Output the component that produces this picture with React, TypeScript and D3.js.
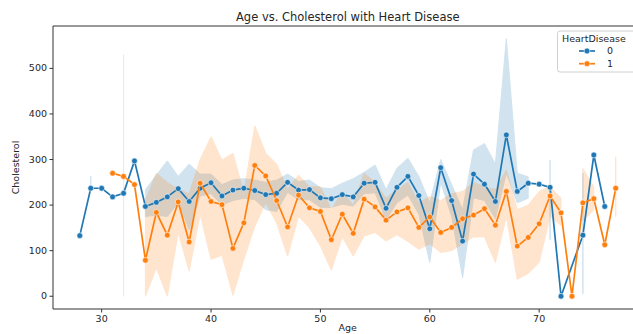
import React from "react";
import * as d3 from "d3";

// HeartDisease = 0
const ages0 = [28,29,30,31,32,33,34,35,36,37,38,39,40,41,42,43,44,45,46,47,48,49,50,51,52,53,54,55,56,57,58,59,60,61,62,63,64,65,66,67,68,69,70,71,72,74,75,76];
const chol0 = [133,237,237,218,226,297,197,206,218,236,208,237,249,220,233,237,232,223,226,250,233,234,216,214,223,218,248,250,193,239,263,221,148,282,210,121,268,246,208,354,230,248,246,239,0,134,310,197];
const lo0 = [null,237,null,null,null,null,175,178,175,206,146,220,225,200,210,215,212,190,186,228,212,212,195,195,202,198,225,227,168,205,222,180,74,250,175,41,216,210,170,270,205,215,null,124,null,5,null,null];
const hi0 = [null,263,null,null,null,null,234,266,297,263,290,268,268,245,255,258,255,250,255,268,252,255,238,236,248,258,272,288,234,281,303,263,205,300,245,190,321,335,290,565,270,262,null,299,null,270,null,null];

// HeartDisease = 1
const ages1 = [31,32,33,34,35,36,37,38,39,40,41,42,43,44,45,46,47,48,49,50,51,52,53,54,55,56,57,58,59,60,61,62,63,64,65,66,67,68,69,70,71,72,73,74,75,76,77];
const chol1 = [270,263,245,79,184,134,207,119,248,208,201,105,161,287,264,210,152,222,194,186,124,180,138,213,196,167,185,194,151,174,140,151,170,178,192,156,230,110,129,159,220,183,0,205,214,113,237];
const lo1 = [null,0,null,0,62,0,140,55,180,81,90,2,81,153,205,160,88,175,150,110,57,130,88,132,140,121,135,120,103,115,96,100,115,130,130,74,175,37,50,74,175,155,null,165,190,null,175];
const hi1 = [null,530,null,210,270,250,235,225,300,350,299,314,227,374,314,290,235,266,240,240,190,230,200,270,250,215,234,250,205,219,210,225,230,250,240,234,277,190,200,230,241,215,null,280,240,null,306];

const xTicks = [30, 40, 50, 60, 70];
const yTicks = [0, 100, 200, 300, 400, 500];
const hueLabels = ["0", "1"];
const colors = ["#1f77b4", "#ff7f0e"];

const W = 633;
const H = 334;
const FONT = "DejaVu Sans, sans-serif";

type Pt = { age: number; v: number; lo: number | null; hi: number | null };

const build = (a: number[], v: number[], lo: (number | null)[], hi: (number | null)[]): Pt[] =>
  a.map((age, i) => ({ age, v: v[i], lo: lo[i], hi: hi[i] }));

const series = [build(ages0, chol0, lo0, hi0), build(ages1, chol1, lo1, hi1)];

export default function App() {
  const left = 53;
  const right = 642.5;
  const top = 26;
  const bottom = 309;

  const x = d3.scaleLinear().domain([25.55, 79.45]).range([left, right]);
  const y = d3.scaleLinear().domain([-28, 593]).range([bottom, top]);

  const band = d3
    .area<Pt>()
    .defined((d) => d.lo != null && d.hi != null)
    .x((d) => x(d.age))
    .y0((d) => y(d.lo as number))
    .y1((d) => y(d.hi as number));

  const line = d3
    .line<Pt>()
    .x((d) => x(d.age))
    .y((d) => y(d.v));

  return (
    <svg
      width={W}
      height={H}
      style={{ position: "absolute", left: 0, top: 0, background: "#fff" }}
      fontFamily={FONT}
    >
      <defs>
        <clipPath id="plot">
          <rect x={left} y={top} width={right - left} height={bottom - top} />
        </clipPath>
      </defs>

      {/* confidence bands */}
      <g clipPath="url(#plot)">
        {series.map((s, i) => (
          <g key={"b" + i} opacity={0.2}>
            <path d={band(s) || ""} fill={colors[i]} stroke={colors[i]} strokeWidth={1} />
          </g>
        ))}
      </g>

      {/* lines + markers */}
      <g clipPath="url(#plot)">
        {series.map((s, i) => (
          <g key={"l" + i}>
            <path d={line(s) || ""} fill="none" stroke={colors[i]} strokeWidth={1.7} />
            {s.map((d) => (
              <circle
                key={d.age}
                cx={x(d.age)}
                cy={y(d.v)}
                r={2.9}
                fill={colors[i]}
                stroke="#fff"
                strokeWidth={0.6}
              />
            ))}
          </g>
        ))}
      </g>

      {/* spines */}
      <line x1={left} x2={left} y1={top} y2={bottom} stroke="#333" strokeWidth={1} />
      <line x1={left} x2={right} y1={bottom} y2={bottom} stroke="#333" strokeWidth={1} />
      <line x1={left} x2={right} y1={top} y2={top} stroke="#333" strokeWidth={1} />
      <line x1={right} x2={right} y1={top} y2={bottom} stroke="#333" strokeWidth={1} />

      {/* y axis */}
      {yTicks.map((t) => (
        <g key={"y" + t}>
          <line x1={left - 3.5} x2={left} y1={y(t)} y2={y(t)} stroke="#333" />
          <text x={left - 6} y={y(t)} dy="0.32em" textAnchor="end" fontSize={9.5} fill="#262626">
            {t}
          </text>
        </g>
      ))}
      <text
        transform={`translate(16,${(top + bottom) / 2}) rotate(-90)`}
        textAnchor="middle"
        dy="0.32em"
        fontSize={9.5}
        fill="#262626"
      >
        Cholesterol
      </text>

      {/* x axis */}
      {xTicks.map((t) => (
        <g key={"x" + t}>
          <line x1={x(t)} x2={x(t)} y1={bottom} y2={bottom + 3.5} stroke="#333" />
          <text x={x(t)} y={bottom + 6} dy="0.71em" textAnchor="middle" fontSize={9.5} fill="#262626">
            {t}
          </text>
        </g>
      ))}
      <text x={(left + right) / 2} y={331} textAnchor="middle" fontSize={9.5} fill="#262626">
        Age
      </text>

      {/* title */}
      <text x={(left + right) / 2} y={21} textAnchor="middle" fontSize={11.5} fill="#262626">
        Age vs. Cholesterol with Heart Disease
      </text>

      {/* legend */}
      <g>
        <rect x={557.5} y={31} width={80} height={41} rx={2.5} fill="#fff" fillOpacity={0.8} stroke="#d0d0d0" />
        <text x={562} y={41.5} fontSize={9.5} fill="#262626">
          HeartDisease
        </text>
        {hueLabels.map((lab, i) => {
          const ly = 51 + i * 12.7;
          return (
            <g key={lab}>
              <line x1={579} x2={595} y1={ly} y2={ly} stroke={colors[i]} strokeWidth={1.7} />
              <circle cx={587} cy={ly} r={2.9} fill={colors[i]} stroke="#fff" strokeWidth={0.6} />
              <text x={607} y={ly} dy="0.35em" fontSize={9.5} fill="#262626">
                {lab}
              </text>
            </g>
          );
        })}
      </g>
    </svg>
  );
}
